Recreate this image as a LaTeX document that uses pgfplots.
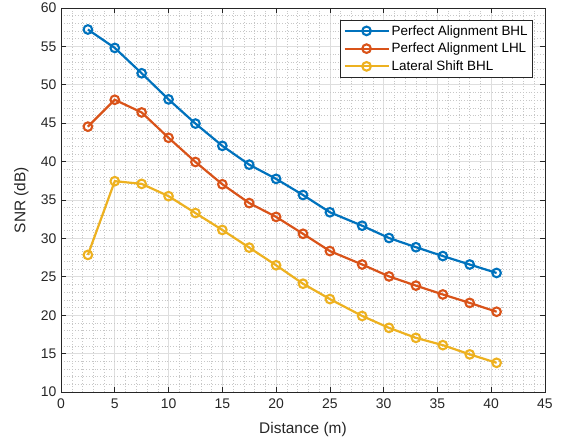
\documentclass[border=0pt]{standalone}
\usepackage{fontspec}
\setmainfont{Liberation Sans}
\usepackage{pgfplots}
\pgfplotsset{compat=1.18}
\definecolor{mblue}{rgb}{0,0.447,0.741}
\definecolor{mred}{rgb}{0.85,0.325,0.098}
\definecolor{myellow}{rgb}{0.929,0.694,0.125}
\definecolor{axgray}{rgb}{0.15,0.15,0.15}
\begin{document}
\begin{tikzpicture}
\useasboundingbox (-61bp,-52bp) rectangle (505bp,392bp);
\begin{axis}[
  scale only axis, width=484bp, height=384bp,
  at={(0,0)}, anchor=south west,
  xmin=0, xmax=45, ymin=10, ymax=60,
  xtick={0,5,...,45}, ytick={10,15,...,60},
  minor tick num=4,
  grid=both,
  major grid style={draw=black!13, line width=0.7bp},
  minor grid style={draw=black!22, dash pattern=on 0.6bp off 2.2bp, line width=0.5bp},
  axis line style={draw=axgray, line width=0.6bp},
  tick style={draw=axgray, line width=0.6bp},
  major tick length=5bp, minor tick length=0pt,
  tick align=inside,
  /pgf/number format/assume math mode=true,
  tick label style={font=\fontsize{14}{16}\selectfont, text=axgray},
  xticklabel style={yshift=-3.5bp},
  yticklabel style={xshift=-1bp},
  xlabel={Distance (m)}, ylabel={SNR (dB)},
  label style={font=\fontsize{15.5}{17}\selectfont, text=axgray},
  xlabel style={at={(axis description cs:0.5,-0.097)}, anchor=center},
  ylabel style={at={(axis description cs:-0.082,0.5)}, anchor=center},
  legend style={at={(1,1)}, xshift=-12bp, yshift=-12bp, anchor=north east,
    font=\fontsize{13.5}{15}\selectfont, draw=axgray, line width=0.6bp,
    inner xsep=3bp, inner ysep=3bp, row sep=2.5bp},
  legend cell align=left,
  legend image code/.code={\draw[mark repeat=2,mark phase=2,#1] plot coordinates {(0bp,0bp)(22bp,0bp)(44bp,0bp)};},
  every axis plot/.append style={line width=2.2bp, mark=o, mark size=4.3bp,
    mark options={solid, fill=white, line width=2.1bp}},
]
\addplot[color=mblue] coordinates {
(2.5,57.2) (5,54.8) (7.5,51.5) (10,48.1) (12.5,44.95) (15,42.05) (17.5,39.6) (20,37.75)
(22.5,35.65) (25,33.4) (28,31.65) (30.5,30.05) (33,28.85) (35.5,27.7) (38,26.6) (40.5,25.5)};
\addlegendentry{Perfect Alignment BHL}
\addplot[color=mred] coordinates {
(2.5,44.55) (5,48.05) (7.5,46.4) (10,43.1) (12.5,39.95) (15,37.05) (17.5,34.6) (20,32.8)
(22.5,30.6) (25,28.35) (28,26.6) (30.5,25.05) (33,23.85) (35.5,22.7) (38,21.6) (40.5,20.45)};
\addlegendentry{Perfect Alignment LHL}
\addplot[color=myellow] coordinates {
(2.5,27.85) (5,37.45) (7.5,37.1) (10,35.5) (12.5,33.3) (15,31.1) (17.5,28.8) (20,26.5)
(22.5,24.1) (25,22.1) (28,19.9) (30.5,18.35) (33,17.05) (35.5,16.1) (38,14.9) (40.5,13.8)};
\addlegendentry{Lateral Shift BHL}
\end{axis}
\end{tikzpicture}
\end{document}
